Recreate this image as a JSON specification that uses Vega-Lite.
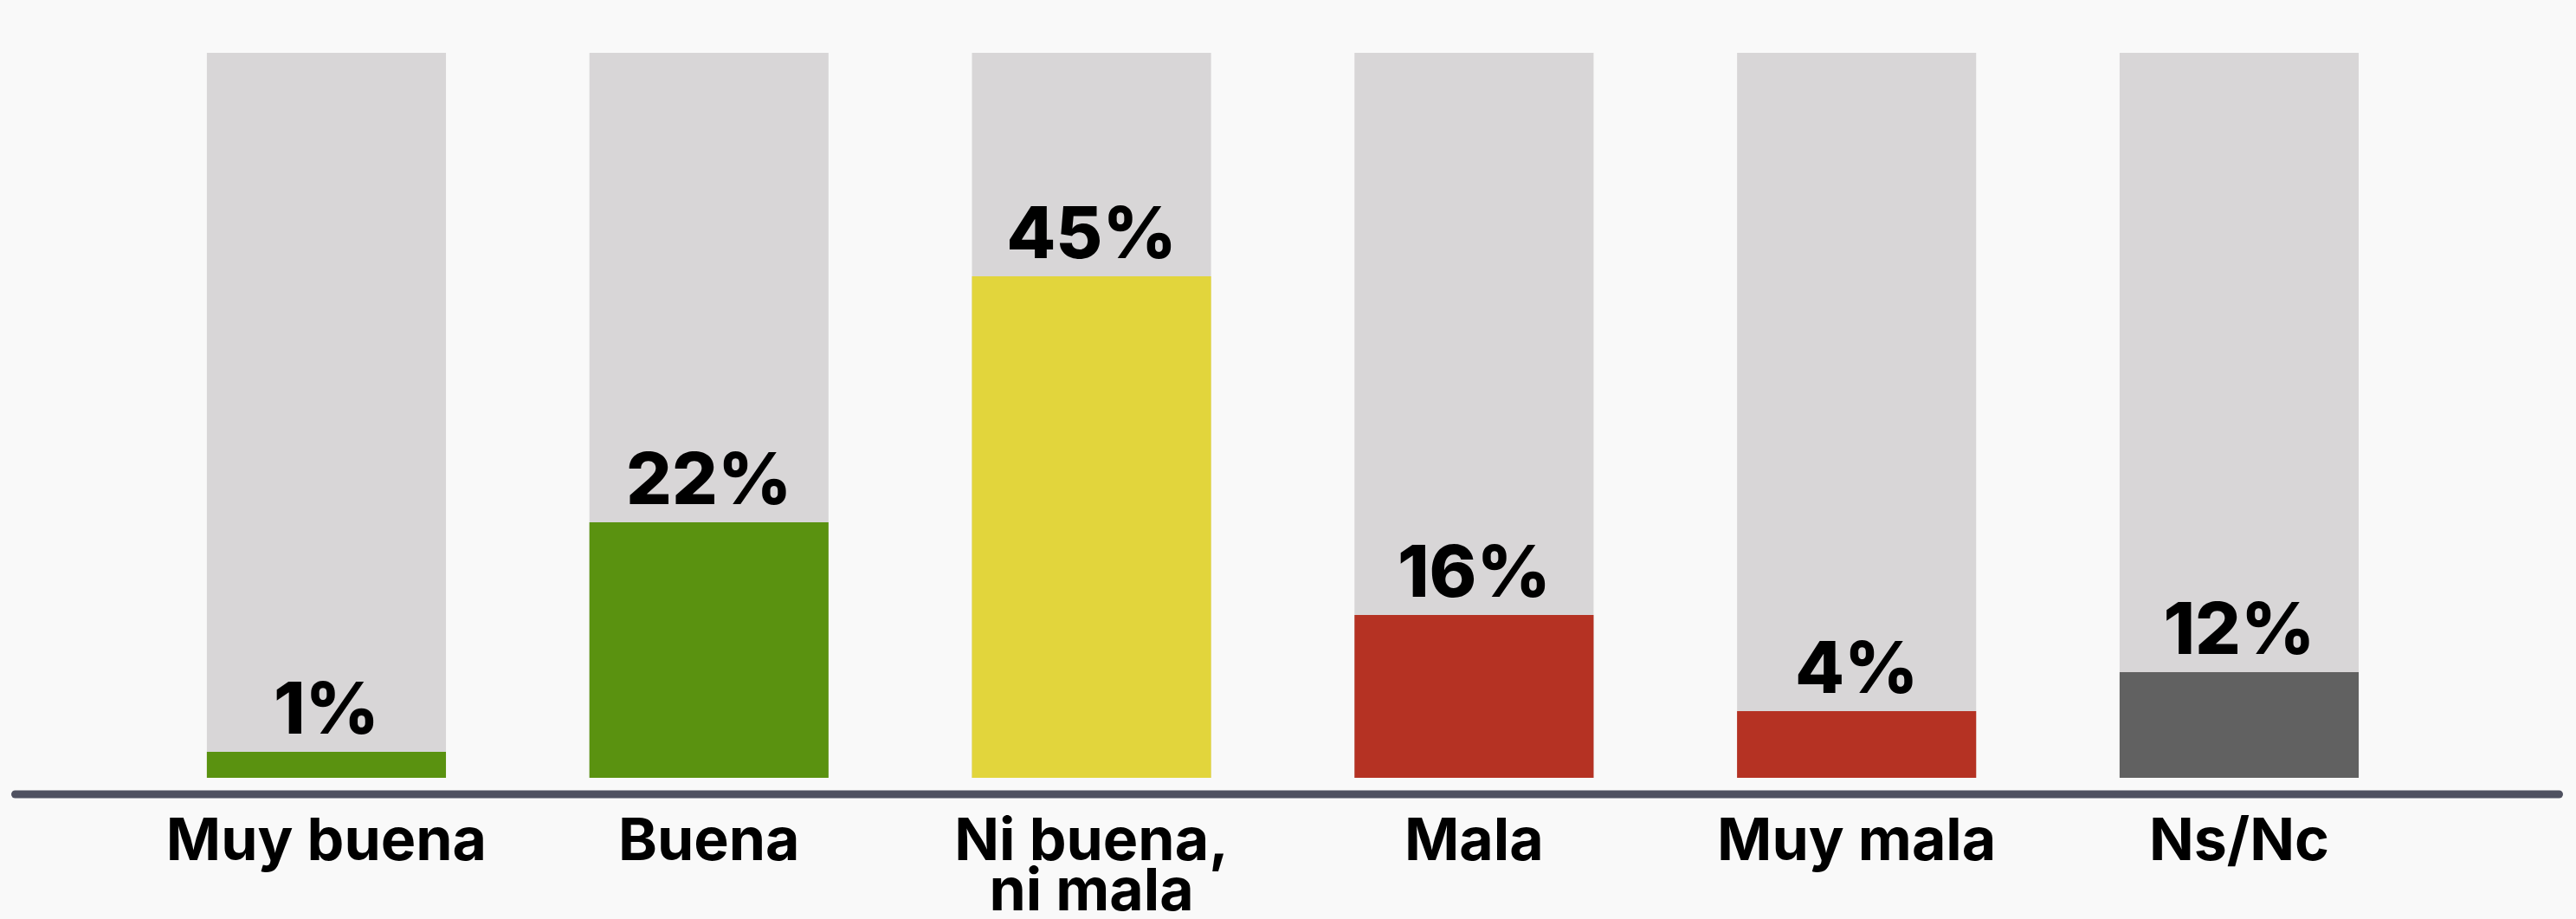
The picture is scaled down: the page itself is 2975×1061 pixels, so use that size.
{
  "$schema": "https://vega.github.io/schema/vega-lite/v6.json",
  "autosize": "none",
  "width": 2938,
  "height": 837,
  "padding": {"left": 17, "top": 61, "right": 20, "bottom": 163},
  "background": "#f9f9f9",
  "config": {"view": {"stroke": null}},
  "data": {
    "values": [
      {"categoria": "Muy buena", "porcentaje": 1, "etiqueta": "1%", "barra": 2.33},
      {"categoria": "Buena", "porcentaje": 22, "etiqueta": "22%", "barra": 22.9},
      {"categoria": "Ni buena, ni mala", "porcentaje": 45, "etiqueta": "45%", "barra": 44.96},
      {"categoria": "Mala", "porcentaje": 16, "etiqueta": "16%", "barra": 14.6},
      {"categoria": "Muy mala", "porcentaje": 4, "etiqueta": "4%", "barra": 5.98},
      {"categoria": "Ns/Nc", "porcentaje": 12, "etiqueta": "12%", "barra": 9.47}
    ]
  },
  "encoding": {
    "x": {
      "field": "categoria",
      "type": "nominal",
      "sort": null,
      "scale": {"paddingInner": 0.375, "paddingOuter": 0.5125, "align": 0.49},
      "axis": {
        "title": null,
        "labelAngle": 0,
        "ticks": false,
        "tickSize": 0,
        "grid": false,
        "offset": 18.5,
        "domainColor": "#4f5160",
        "domainWidth": 9,
        "domainCap": "round",
        "labelFont": "Inter",
        "labelFontWeight": "bold",
        "labelFontSize": 68,
        "labelColor": "#000000",
        "labelBaseline": "alphabetic",
        "labelPadding": 76,
        "labelLineHeight": 58,
        "labelLimit": 0,
        "labelOverlap": false,
        "labelExpr": "datum.label == 'Ni buena, ni mala' ? ['Ni buena,', 'ni mala'] : datum.label"
      }
    }
  },
  "layer": [
    {
      "mark": {"type": "bar", "color": "#d8d6d7"},
      "encoding": {
        "y": {"datum": 65, "type": "quantitative", "scale": {"domain": [0, 65], "nice": false}, "axis": null}
      }
    },
    {
      "mark": {"type": "bar"},
      "encoding": {
        "y": {"field": "barra", "type": "quantitative", "scale": {"domain": [0, 65], "nice": false}, "axis": null},
        "color": {
          "field": "categoria",
          "type": "nominal",
          "legend": null,
          "scale": {
            "domain": ["Muy buena", "Buena", "Ni buena, ni mala", "Mala", "Muy mala", "Ns/Nc"],
            "range": ["#5a9210", "#5a9210", "#e2d53c", "#b53223", "#b53223", "#616161"]
          }
        }
      }
    },
    {
      "mark": {"type": "text", "font": "Inter", "fontWeight": 800, "fontSize": 83, "color": "#000000", "baseline": "alphabetic", "dy": -21, "align": "center"},
      "encoding": {
        "y": {"field": "barra", "type": "quantitative", "scale": {"domain": [0, 65], "nice": false}, "axis": null},
        "text": {"field": "etiqueta"}
      }
    }
  ]
}
